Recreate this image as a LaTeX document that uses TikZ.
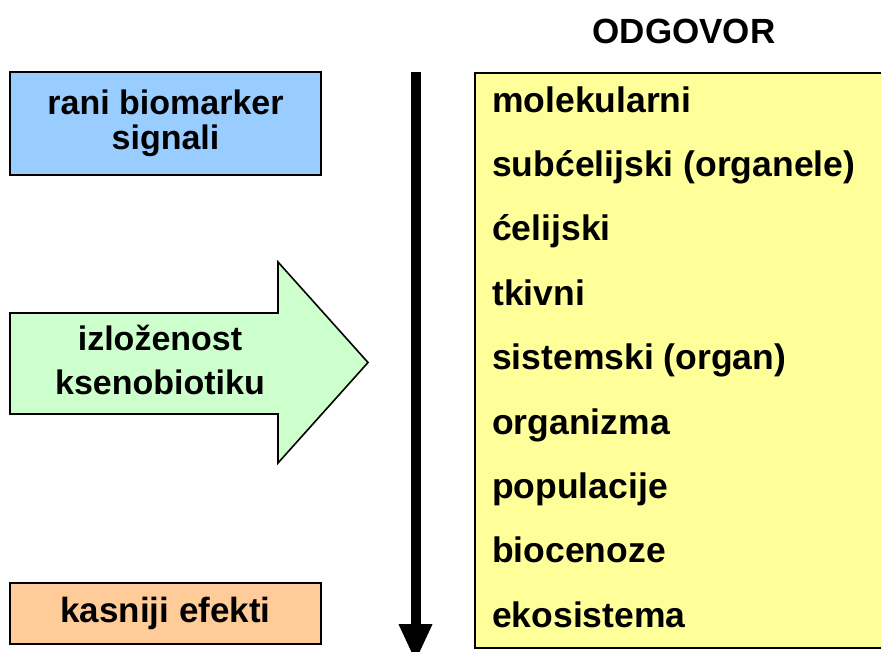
\documentclass[tikz,border=0pt]{standalone}
\usepackage{fontspec}
\setmainfont{Liberation Sans}
\usetikzlibrary{arrows.meta,positioning}
\definecolor{earlyblue}{HTML}{99CCFF}
\definecolor{expogreen}{HTML}{CCFFCC}
\definecolor{lateorange}{HTML}{FFCC99}
\definecolor{respyellow}{HTML}{FFFF99}

\tikzset{
  big/.style={font=\fontsize{34}{35}\selectfont\bfseries},
  sbox/.style={draw=black,line width=1.6pt,minimum width=311pt,inner sep=0pt,align=center,big},
  level/.style={font=\fontsize{35.5}{36}\selectfont\bfseries,anchor=base west,inner sep=0pt}
}

\begin{document}
\begin{tikzpicture}[x=1pt,y=-1pt]
\useasboundingbox (0,0) rectangle (881,651);

% left column
\node [sbox,fill=earlyblue,minimum height=103pt] (early) at (165.5,123.5) {rani biomarker\\signali};
\draw [line width=1.6pt,fill=expogreen] (10,313) -- (278,313) -- (278,262) -- (368,362.5)
  -- (278,463) -- (278,414) -- (10,414) -- cycle;
\node [align=center,inner sep=0pt,font=\fontsize{34}{44}\selectfont\bfseries] (expo) at (160,359.5) {izloženost\\ksenobiotiku};
\node [sbox,fill=lateorange,minimum height=61pt,font=\fontsize{35}{36}\selectfont\bfseries] (late) at (165.5,613.5) {kasniji efekti};

% time axis
\coordinate (top) at (415.5,72);
\coordinate (bot) at (415.5,662);
\draw [line width=10pt,-{Triangle[width=31pt,length=38pt]}] (top) -- (bot);

% response column
\node [anchor=base,font=\fontsize{35}{36}\selectfont\bfseries] (title) at (684,43) {ODGOVOR};
\node [draw=black,line width=1.6pt,fill=respyellow,anchor=north west,
  minimum width=416pt,minimum height=575pt,inner sep=0pt] (resp) at (474,72) {};
\foreach \i/\lvl in {1/molekularni,2/{subćelijski (organele)},3/ćelijski,4/tkivni,
  5/{sistemski (organ)},6/organizma,7/populacije,8/biocenoze,9/ekosistema}
  \node [level] (l\i) at (492,{112+64.4*(\i-1)}) {\lvl};

\end{tikzpicture}
\end{document}
